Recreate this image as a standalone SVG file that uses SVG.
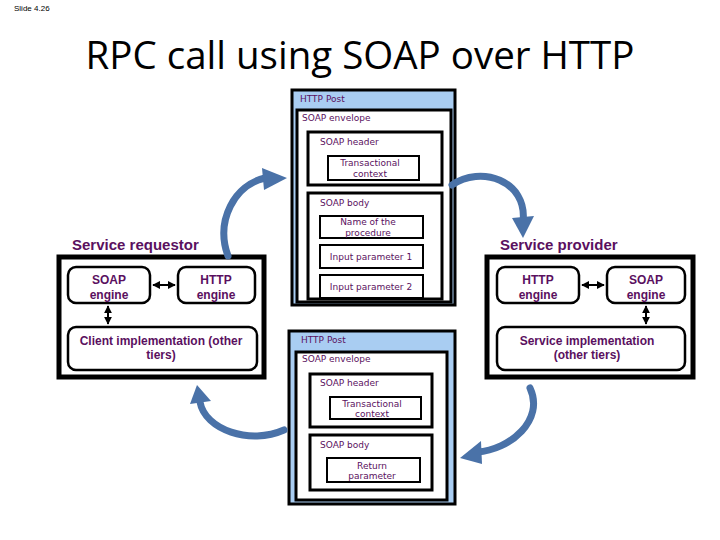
<svg xmlns="http://www.w3.org/2000/svg" width="720" height="540" viewBox="0 0 720 540">
<style>
.t{font-family:"Liberation Sans",Arial,sans-serif;font-weight:bold;fill:#5a1060;font-size:12px;text-anchor:middle}
.h{font-family:"Liberation Sans",Arial,sans-serif;font-weight:bold;fill:#5a1060;font-size:15px}
.s{font-family:"DejaVu Sans",sans-serif;fill:#5a1060;font-size:9px}
.sc{font-family:"DejaVu Sans",sans-serif;fill:#5a1060;font-size:9px;text-anchor:middle}
.outer{fill:#a9cdf2;stroke:#000;stroke-width:3}
.w{fill:#fff;stroke:#000;stroke-width:3}
.w2{fill:#fff;stroke:#000;stroke-width:2}
.sys{fill:#fff;stroke:#000;stroke-width:5}
.rb{fill:#fff;stroke:#000;stroke-width:2.5}
.arc{fill:none;stroke:#4a72a8;stroke-width:7;stroke-linecap:round}
.hd{fill:#4a72a8}
.dl{stroke:#000;stroke-width:2}
</style>
<defs>
<marker id="a" viewBox="0 0 10 10" refX="9" refY="5" markerWidth="4" markerHeight="4" orient="auto-start-reverse"><path d="M0,0L10,5L0,10z" fill="#000"/></marker>
</defs>
<rect width="720" height="540" fill="#fff"/>
<text x="14" y="11" font-family="Liberation Sans,sans-serif" font-size="8" fill="#000">Slide 4.26</text>
<text x="360" y="69" font-family="Open Sans,Liberation Sans,sans-serif" font-size="38.5" fill="#000" text-anchor="middle">RPC call using SOAP over HTTP</text>

<g id="request-msg">
<rect class="outer" x="292" y="90" width="163" height="215"/>
<text class="s" x="300" y="102">HTTP Post</text>
<rect class="w" x="297" y="110" width="154" height="192"/>
<text class="s" x="302" y="121">SOAP envelope</text>
<rect class="w" x="308" y="132" width="134" height="53"/>
<text class="s" x="320" y="145">SOAP header</text>
<rect class="w2" x="328" y="156" width="91" height="24"/>
<text class="sc" x="370" y="166">Transactional</text><text class="sc" x="370" y="177">context</text>
<rect class="w" x="308" y="193" width="134" height="106"/>
<text class="s" x="320" y="206">SOAP body</text>
<rect class="w2" x="320" y="216" width="103" height="22"/>
<text class="sc" x="368" y="225">Name of the</text><text class="sc" x="368" y="236">procedure</text>
<rect class="w2" x="320" y="245" width="103" height="23"/>
<text class="sc" x="371" y="260">Input parameter 1</text>
<rect class="w2" x="320" y="275" width="103" height="23"/>
<text class="sc" x="371" y="290">Input parameter 2</text>
</g>

<g id="response-msg">
<rect class="outer" x="289" y="331" width="166" height="173"/>
<text class="s" x="301" y="343">HTTP Post</text>
<rect class="w" x="296" y="352" width="151" height="148"/>
<text class="s" x="302" y="362">SOAP envelope</text>
<rect class="w" x="310" y="374" width="122" height="53"/>
<text class="s" x="320" y="386">SOAP header</text>
<rect class="w2" x="330" y="397" width="91" height="22"/>
<text class="sc" x="372" y="407">Transactional</text><text class="sc" x="372" y="417">context</text>
<rect class="w" x="310" y="435" width="122" height="55"/>
<text class="s" x="320" y="448">SOAP body</text>
<rect class="w2" x="327" y="458" width="93" height="24"/>
<text class="sc" x="372" y="469">Return</text><text class="sc" x="372" y="479">parameter</text>
</g>

<g id="requestor">
<text class="h" x="72" y="250">Service requestor</text>
<rect class="sys" x="59" y="257" width="205" height="120"/>
<rect class="rb" x="68" y="267" width="82" height="36" rx="8"/>
<text class="t" x="109" y="284">SOAP</text><text class="t" x="109" y="299">engine</text>
<rect class="rb" x="178" y="267" width="77" height="36" rx="8"/>
<text class="t" x="216" y="284">HTTP</text><text class="t" x="216" y="299">engine</text>
<rect class="rb" x="68" y="327" width="189" height="43" rx="8"/>
<text class="t" x="161" y="345">Client implementation (other</text><text class="t" x="161" y="359">tiers)</text>
</g>

<g id="provider">
<text class="h" x="500" y="250">Service provider</text>
<rect class="sys" x="487" y="257" width="206" height="120"/>
<rect class="rb" x="497" y="267" width="82" height="36" rx="8"/>
<text class="t" x="538" y="284">HTTP</text><text class="t" x="538" y="299">engine</text>
<rect class="rb" x="607" y="267" width="78" height="36" rx="8"/>
<text class="t" x="646" y="284">SOAP</text><text class="t" x="646" y="299">engine</text>
<rect class="rb" x="497" y="327" width="188" height="43" rx="8"/>
<text class="t" x="587" y="345">Service implementation</text><text class="t" x="587" y="359">(other tiers)</text>
</g>

<g id="connectors">
<line class="dl" x1="153" y1="285" x2="175" y2="285" marker-start="url(#a)" marker-end="url(#a)"/>
<line class="dl" x1="108" y1="306" x2="108" y2="324" marker-start="url(#a)" marker-end="url(#a)"/>
<line class="dl" x1="582" y1="285" x2="604" y2="285" marker-start="url(#a)" marker-end="url(#a)"/>
<line class="dl" x1="646" y1="306" x2="646" y2="324" marker-start="url(#a)" marker-end="url(#a)"/>
<path class="arc" d="M228,256 C215,220 235,185 265,178"/>
<polygon class="hd" points="262,168 287,178 264,190"/>
<path class="arc" d="M452,185 C480,165 528,180 523,222"/>
<polygon class="hd" points="512,218 523,238 534,216"/>
<path class="arc" d="M284,430 C250,445 205,430 200,402"/>
<polygon class="hd" points="190,404 197,385 211,401"/>
<path class="arc" d="M530,388 C545,420 510,450 477,452"/>
<polygon class="hd" points="481,441 460,458 482,464"/>
</g>
</svg>
